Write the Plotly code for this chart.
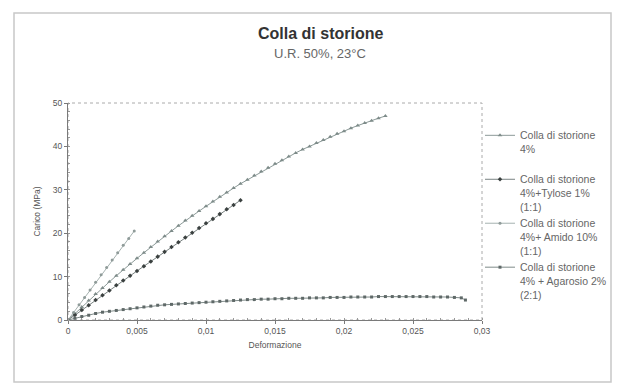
import plotly.graph_objects as go

# ---- data ----
x_s1 = [0, 0.0005, 0.001, 0.0015, 0.002, 0.0025, 0.003, 0.0035, 0.004, 0.0045,
        0.005, 0.0055, 0.006, 0.0065, 0.007, 0.0075, 0.008, 0.0085, 0.009, 0.0095,
        0.010, 0.0105, 0.011, 0.0115, 0.012, 0.0125, 0.013, 0.0135, 0.014, 0.0145,
        0.015, 0.0155, 0.016, 0.0165, 0.017, 0.0175, 0.018, 0.0185, 0.019, 0.0195,
        0.020, 0.0205, 0.021, 0.0215, 0.022, 0.0225, 0.023]
y_s1 = [0, 1.5, 3.0, 4.5, 6.0, 7.4, 8.8, 10.2, 11.6, 12.9,
        14.2, 15.5, 16.8, 18.1, 19.3, 20.5, 21.7, 22.9, 24.0, 25.1,
        26.2, 27.3, 28.4, 29.4, 30.4, 31.4, 32.3, 33.3, 34.2, 35.1,
        36.0, 36.8, 37.7, 38.5, 39.3, 40.0, 40.8, 41.5, 42.2, 42.9,
        43.5, 44.2, 44.8, 45.4, 45.9, 46.5, 47.0]

x_s2 = [0, 0.0005, 0.001, 0.0015, 0.002, 0.0025, 0.003, 0.0035, 0.004, 0.0045,
        0.005, 0.0055, 0.006, 0.0065, 0.007, 0.0075, 0.008, 0.0085, 0.009, 0.0095,
        0.010, 0.0105, 0.011, 0.0115, 0.012, 0.0125]
y_s2 = [0, 1.15, 2.3, 3.4, 4.6, 5.7, 6.8, 8.0, 9.1, 10.2,
        11.3, 12.4, 13.5, 14.6, 15.7, 16.8, 17.9, 19.0, 20.1, 21.2,
        22.3, 23.3, 24.4, 25.5, 26.5, 27.6]

x_s3 = [0, 0.0004, 0.0008, 0.0012, 0.0016, 0.002, 0.0024, 0.0028, 0.0032,
        0.0036, 0.004, 0.0044, 0.0048]
y_s3 = [0, 1.7, 3.5, 5.2, 6.9, 8.7, 10.4, 12.1, 13.8, 15.5, 17.2, 18.8, 20.5]

x_s4 = [0, 0.0005, 0.001, 0.0015, 0.002, 0.0025, 0.003, 0.0035, 0.004, 0.0045,
        0.005, 0.0055, 0.006, 0.0065, 0.007, 0.0075, 0.008, 0.0085, 0.009, 0.0095,
        0.010, 0.0105, 0.011, 0.0115, 0.012, 0.0125, 0.013, 0.0135, 0.014, 0.0145,
        0.015, 0.0155, 0.016, 0.0165, 0.017, 0.0175, 0.018, 0.0185, 0.019, 0.0195,
        0.020, 0.0205, 0.021, 0.0215, 0.022, 0.0225, 0.023, 0.0235, 0.024, 0.0245,
        0.025, 0.0255, 0.026, 0.0265, 0.027, 0.0275, 0.028, 0.0285, 0.0288]
y_s4 = [0, 0.4, 0.8, 1.1, 1.5, 1.8, 2.0, 2.2, 2.4, 2.6,
        2.8, 3.0, 3.2, 3.4, 3.5, 3.6, 3.7, 3.8, 3.9, 4.0,
        4.1, 4.2, 4.3, 4.4, 4.5, 4.6, 4.7, 4.7, 4.8, 4.8,
        4.9, 4.9, 5.0, 5.0, 5.0, 5.1, 5.1, 5.1, 5.2, 5.2,
        5.2, 5.3, 5.3, 5.3, 5.3, 5.4, 5.4, 5.4, 5.4, 5.4,
        5.4, 5.4, 5.4, 5.3, 5.3, 5.3, 5.2, 5.1, 4.6]

names = ["Colla di storione<br>4%<br> ",
         "Colla di storione<br>4%+Tylose 1%<br>(1:1)",
         "Colla di storione<br>4%+ Amido 10%<br>(1:1)",
         "Colla di storione<br>4% + Agarosio 2%<br>(2:1)"]

x_ticks = [0, 0.005, 0.01, 0.015, 0.02, 0.025, 0.03]
x_tick_labels = ["0", "0,005", "0,01", "0,015", "0,02", "0,025", "0,03"]
y_ticks = [0, 10, 20, 30, 40, 50]

title = "Colla di storione"
subtitle = "U.R. 50%, 23°C"
x_title = "Deformazione"
y_title = "Carico (MPa)"

# ---- figure ----
fig = go.Figure()
styles = [
    dict(line=dict(color="#8c9a98", width=1), marker=dict(symbol="triangle-up", size=4, color="#7d8b89")),
    dict(line=dict(color="#7a8382", width=1), marker=dict(symbol="diamond", size=3.5, color="#3a403f")),
    dict(line=dict(color="#a6b2b0", width=1), marker=dict(symbol="circle", size=3, color="#8f9b99")),
    dict(line=dict(color="#7f8b89", width=1), marker=dict(symbol="square", size=3, color="#5f6968")),
]
for xs, ys, nm, st in zip([x_s1, x_s2, x_s3, x_s4], [y_s1, y_s2, y_s3, y_s4], names, styles):
    fig.add_trace(go.Scatter(x=xs, y=ys, name=nm, mode="lines+markers",
                             line=st["line"], marker=st["marker"]))

L, R, T, B = 68, 135, 103, 67
W, H = 617, 387
pw, ph = W - L - R, H - T - B

def px_x(p):
    return (p - L) / pw

def px_y(p):
    return (H - B - p) / ph

axis_common = dict(showgrid=False, zeroline=False, showline=True, linecolor="#7a7a7a",
                   linewidth=1, ticks="outside", ticklen=3, tickcolor="#7a7a7a",
                   tickfont=dict(family="Liberation Sans, Arial", size=8.5, color="#555"),
                   mirror=False)

fig.update_layout(
    width=W, height=H,
    margin=dict(l=L, r=R, t=T, b=B, autoexpand=False),
    paper_bgcolor="white", plot_bgcolor="white",
    separators=",.",
    font=dict(family="Liberation Sans, Arial", color="#555"),
    xaxis=dict(range=[0, 0.03], tickvals=x_ticks, ticktext=x_tick_labels,
               title=dict(text=x_title, font=dict(size=8.5, color="#555"), standoff=6),
               minor=dict(ticks="inside", ticklen=2, tickcolor="#999", dtick=0.001),
               **axis_common),
    yaxis=dict(range=[0, 50], tickvals=y_ticks,
               title=dict(text=y_title, font=dict(size=8.5, color="#555"), standoff=10),
               minor=dict(ticks="inside", ticklen=2, tickcolor="#999", dtick=2),
               **axis_common),
    showlegend=True,
    legend=dict(x=px_x(480), y=px_y(122), xanchor="left", yanchor="top",
                bgcolor="rgba(0,0,0,0)", font=dict(size=10.5, color="#666", family="Liberation Sans, Arial"),
                tracegroupgap=0, valign="top", itemwidth=30),
    shapes=[
        dict(type="rect", xref="paper", yref="paper", x0=0, x1=1, y0=0, y1=1,
             line=dict(color="#aaaaaa", width=1, dash="dot"), layer="below"),
        dict(type="rect", xref="paper", yref="paper",
             x0=px_x(14), x1=px_x(611), y0=px_y(382), y1=px_y(13),
             line=dict(color="#c8c8c8", width=1.5)),
    ],
    annotations=[
        dict(text="<b>" + title + "</b>", xref="paper", yref="paper",
             x=px_x(320), y=px_y(33), showarrow=False, xanchor="center", yanchor="middle",
             font=dict(size=16, color="#333", family="Liberation Sans, Arial")),
        dict(text=subtitle, xref="paper", yref="paper",
             x=px_x(320), y=px_y(53), showarrow=False, xanchor="center", yanchor="middle",
             font=dict(size=13, color="#666", family="Liberation Sans, Arial")),
    ],
)

fig.write_html("out.html")
